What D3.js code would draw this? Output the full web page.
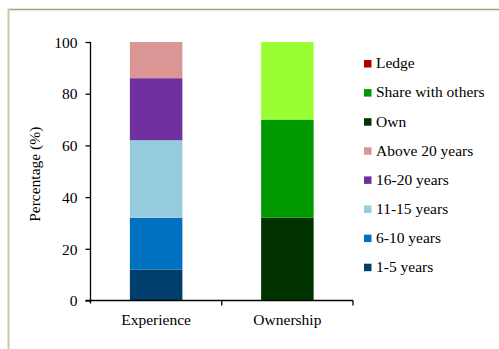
<!DOCTYPE html>
<html>
<head>
<meta charset="utf-8">
<script src="https://cdn.jsdelivr.net/npm/d3@7"></script>
<style>
  html, body { margin: 0; padding: 0; background: #fff; }
  svg { display: block; }
</style>
</head>
<body>
<svg id="chart" width="499" height="349"></svg>
<script>
// Stacked percentage bars: rider experience and motorcycle ownership
const categories = ["Experience", "Ownership"];

// Experience bands (bottom to top)
const experienceSeries = ["1-5 years", "6-10 years", "11-15 years", "16-20 years", "Above 20 years"];
const experienceValues = [12, 20, 30, 24, 14];
const experienceColors = ["#003F6B", "#0070C0", "#96CDDE", "#7030A0", "#DA9694"];

// Ownership bands (bottom to top)
const ownershipSeries = ["Own", "Share with others", "Ledge"];
const ownershipValues = [32, 38, 30];
const ownershipColors = ["#003300", "#009900", "#99FF33"];

// Legend entries, top to bottom
const legendLabels = ["Ledge", "Share with others", "Own", "Above 20 years", "16-20 years", "11-15 years", "6-10 years", "1-5 years"];
const legendColors = ["#B00000", "#009900", "#003300", "#DA9694", "#7030A0", "#96CDDE", "#0070C0", "#003F6B"];

const yTicks = [0, 20, 40, 60, 80, 100];

const FONT = "'Liberation Serif', 'Times New Roman', serif";

const svg = d3.select("#chart");

// frame lines
svg.append("line").attr("x1", 8).attr("x2", 499).attr("y1", 9.5).attr("y2", 9.5)
  .attr("stroke", "#A9A172").attr("stroke-width", 1.5);
svg.append("line").attr("x1", 8.5).attr("x2", 8.5).attr("y1", 9).attr("y2", 349)
  .attr("stroke", "#CEC5A2").attr("stroke-width", 2);

const plot = { left: 90.5, right: 353, top: 42, bottom: 300.5 };

const x = d3.scaleBand().domain(categories).range([plot.left, plot.right]).paddingInner(0.6).paddingOuter(0.3);
const y = d3.scaleLinear().domain([0, 100]).range([plot.bottom, plot.top]);

// stacked bars
const stacks = [
  { cat: "Experience", values: experienceValues, colors: experienceColors },
  { cat: "Ownership", values: ownershipValues, colors: ownershipColors }
];
stacks.forEach(s => {
  let acc = 0;
  const segs = s.values.map((v, i) => { const seg = { y0: acc, y1: acc + v, color: s.colors[i] }; acc += v; return seg; });
  svg.append("g").selectAll("rect").data(segs).join("rect")
    .attr("x", x(s.cat))
    .attr("width", x.bandwidth())
    .attr("y", d => y(d.y1))
    .attr("height", d => y(d.y0) - y(d.y1))
    .attr("fill", d => d.color);
});

// y axis
const yAxis = svg.append("g").attr("transform", `translate(${plot.left},0)`)
  .call(d3.axisLeft(y).tickValues(yTicks).tickSize(5).tickSizeOuter(0).tickPadding(8));
yAxis.attr("font-family", FONT).attr("font-size", 15.5);
yAxis.select(".domain").attr("stroke", "#000").attr("stroke-width", 1.3)
  .attr("d", `M0,${plot.top}V${plot.bottom + 3}`);
yAxis.selectAll(".tick line").attr("stroke", "#000").attr("stroke-width", 1.3);
yAxis.selectAll("text").attr("fill", "#000").attr("dy", "0.34em");

// x axis with boundary ticks between categories
const xAxisG = svg.append("g").attr("transform", `translate(0,${plot.bottom})`);
xAxisG.append("line").attr("x1", plot.left - 5).attr("x2", plot.right).attr("y1", 0).attr("y2", 0)
  .attr("stroke", "#000").attr("stroke-width", 1.3);
const step = (plot.right - plot.left) / categories.length;
d3.range(1, categories.length + 1).forEach(i => {
  const px = plot.left + i * step;
  xAxisG.append("line").attr("x1", px).attr("x2", px).attr("y1", 0).attr("y2", 5)
    .attr("stroke", "#000").attr("stroke-width", 1.3);
});
xAxisG.selectAll("text.cat").data(categories).join("text").attr("class", "cat")
  .attr("x", d => x(d) + x.bandwidth() / 2)
  .attr("y", 24.5)
  .attr("text-anchor", "middle")
  .attr("font-family", FONT)
  .attr("font-size", 15.5)
  .text(d => d);

// y axis title
svg.append("text")
  .attr("transform", `translate(40,${(plot.top + plot.bottom) / 2 + 3}) rotate(-90)`)
  .attr("text-anchor", "middle")
  .attr("font-family", FONT)
  .attr("font-size", 15.5)
  .text("Percentage (%)");

// legend
const legend = svg.append("g").selectAll("g").data(legendLabels).join("g")
  .attr("transform", (d, i) => `translate(364,${63.5 + i * 29.1})`);
legend.append("rect").attr("x", 0).attr("y", -3.5).attr("width", 7.5).attr("height", 7.5)
  .attr("fill", (d, i) => legendColors[i]);
legend.append("text").attr("x", 12).attr("y", 4.8)
  .attr("font-family", FONT)
  .attr("font-size", 15.5)
  .text(d => d);
</script>
</body>
</html>
